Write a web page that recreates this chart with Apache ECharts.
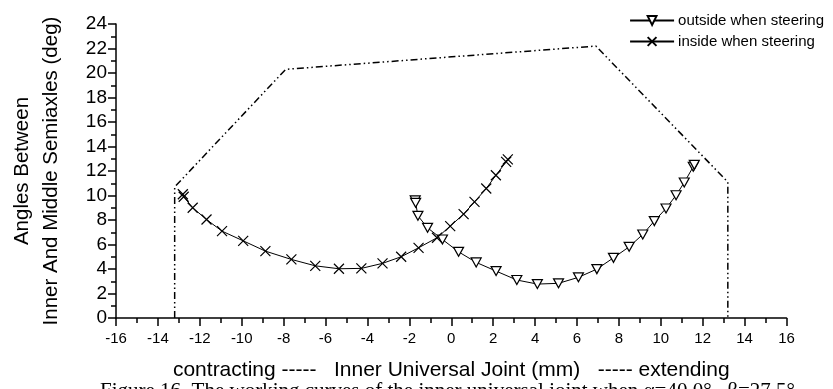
<!DOCTYPE html>
<html>
<head>
<meta charset="utf-8">
<script src="https://cdn.jsdelivr.net/npm/echarts@6/dist/echarts.min.js"></script>
<style>
html,body{margin:0;padding:0;background:#fff;}
#c{width:833px;height:389px;}
</style>
</head>
<body>
<div id="c"></div>
<script>
// Boundary (dash-dot-dot envelope)
var boundX = [-13.2, -13.2, -7.9, 6.9, 13.2, 13.2];
var boundY = [0, 10.7, 20.3, 22.2, 11.1, 0];

// outside when steering (triangles)
var outX = [-1.72, -1.70, -1.59, -1.13, -0.42, 0.35, 1.19, 2.14, 3.13, 4.11, 5.12, 6.07, 6.95, 7.74, 8.49, 9.14, 9.69, 10.25, 10.73, 11.12, 11.55, 11.6];
var outY = [9.6, 9.4, 8.34, 7.36, 6.41, 5.4, 4.54, 3.83, 3.1, 2.77, 2.83, 3.32, 3.99, 4.91, 5.81, 6.82, 7.91, 8.94, 10.02, 11.06, 12.35, 12.5];

// inside when steering (crosses)
var inX = [-12.81, -12.77, -12.34, -11.68, -10.94, -9.93, -8.87, -7.63, -6.49, -5.36, -4.29, -3.28, -2.39, -1.56, -0.68, -0.05, 0.59, 1.11, 1.67, 2.13, 2.62, 2.7];
var inY = [10.1, 9.9, 9.0, 8.04, 7.09, 6.3, 5.46, 4.78, 4.26, 4.02, 4.05, 4.46, 5.0, 5.73, 6.55, 7.5, 8.48, 9.48, 10.57, 11.65, 12.75, 12.95];

var seriesNames = ['outside when steering', 'inside when steering'];
var xTitle = 'contracting -----   Inner Universal Joint (mm)   ----- extending';
var yTitle = 'Angles Between\nInner And Middle Semiaxles (deg)';
var caption = 'Figure 16. The working curves of the inner universal joint when \u03b1=40.0\u00b0,  \u03b2=27.5\u00b0';

function zip(a, b) { return a.map(function (v, i) { return [v, b[i]]; }); }

var chart = echarts.init(document.getElementById('c'), null, {renderer: 'canvas'});
var font = 'Liberation Sans, Arial, sans-serif';
chart.setOption({
  backgroundColor: '#fff',
  animation: false,
  grid: {left: 115.5, right: 46.5, top: 24, bottom: 71, containLabel: false},
  legend: {
    orient: 'vertical', right: 4, top: 8, itemGap: 6,
    itemWidth: 44, itemHeight: 11,
    data: seriesNames,
    textStyle: {fontFamily: font, fontSize: 15, color: '#000', padding: [0, 0, 0, -1]}
  },
  xAxis: {
    type: 'value', min: -16, max: 16, interval: 2,
    name: xTitle, nameLocation: 'middle', nameGap: 42,
    nameTextStyle: {fontFamily: font, fontSize: 21, color: '#000'},
    axisLine: {show: true, onZero: false, lineStyle: {color: '#000', width: 1.5}},
    axisTick: {show: true, inside: false, length: 8, lineStyle: {color: '#000', width: 1.5}},
    minorTick: {show: true, splitNumber: 2, length: 5, lineStyle: {color: '#000', width: 1.5}},
    axisLabel: {fontFamily: font, fontSize: 15, color: '#000', margin: 13},
    splitLine: {show: false}
  },
  yAxis: {
    type: 'value', min: 0, max: 24, interval: 2,
    name: yTitle, nameLocation: 'middle', nameGap: 50, nameRotate: 90,
    nameTextStyle: {fontFamily: font, fontSize: 20.5, color: '#000', lineHeight: 29},
    axisLine: {show: true, onZero: false, lineStyle: {color: '#000', width: 1.5}},
    axisTick: {show: true, inside: false, length: 8, lineStyle: {color: '#000', width: 1.5}},
    minorTick: {show: true, splitNumber: 2, length: 5, lineStyle: {color: '#000', width: 1.5}},
    axisLabel: {fontFamily: font, fontSize: 19, color: '#000', margin: 9},
    splitLine: {show: false}
  },
  graphic: [{
    type: 'text', left: 100, top: 381,
    style: {text: caption, font: '21px "Liberation Serif", "Times New Roman", serif', fill: '#000'}
  }],
  series: [
    {
      name: 'boundary', type: 'line', data: zip(boundX, boundY),
      showSymbol: false, symbol: 'none', silent: true,
      lineStyle: {color: '#000', width: 1.5, type: [7, 3, 1.5, 3, 1.5, 3]},
      z: 1
    },
    {
      name: seriesNames[0], type: 'line', data: zip(outX, outY),
      symbol: 'triangle', symbolRotate: 180, symbolSize: [10, 9],
      itemStyle: {color: '#fff', borderColor: '#000', borderWidth: 1.2},
      lineStyle: {color: '#000', width: 1},
      z: 3
    },
    {
      name: seriesNames[1], type: 'line', data: zip(inX, inY),
      symbol: 'path://M0,0L10,10M10,0L0,10', symbolSize: 10, symbolKeepAspect: true,
      itemStyle: {color: 'none', borderColor: '#000', borderWidth: 1.2},
      lineStyle: {color: '#000', width: 1},
      z: 3
    }
  ]
});
</script>
</body>
</html>
